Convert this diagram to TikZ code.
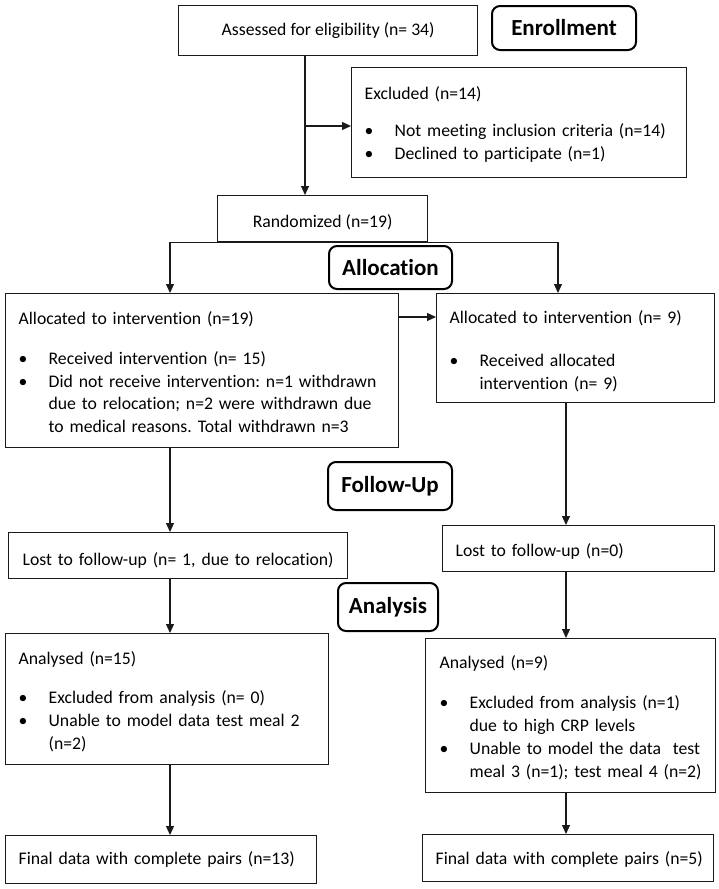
\documentclass[tikz,border=0pt]{standalone}
\usepackage{fontspec}
\setmainfont{Carlito}[Ligatures=NoCommon]
\usetikzlibrary{arrows.meta}
\frenchspacing

% bullet line with hanging text, lines split by \\
\newcommand{\bul}[1]{\par\noindent\makebox[30pt][l]{\textbullet}\begin{tabular}[t]{@{}l@{}}#1\end{tabular}}
\newcommand{\ttl}[2][17pt]{\mbox{#2}\par\vspace{#1}}

\begin{document}
\begin{tikzpicture}[x=1pt,y=-1pt]
    \definecolor{line-color}{HTML}{1a1a1a}
    \tikzstyle{every node}=[font=\fontsize{17.7}{22.7}\selectfont]
    \tikzstyle{plain} = [rectangle, draw=line-color, line width=1.3pt, anchor=north west, inner ysep=0pt, align=left]
    \tikzstyle{drop} = [execute at begin node={\rule{0pt}{#1}}]
    \tikzstyle{stage} = [rectangle, draw=black, line width=2pt, rounded corners=8pt, anchor=north west, inner sep=0pt, font=\fontsize{23}{28}\selectfont\bfseries]
    \tikzstyle{arrow} = [line width=1.2pt, draw=line-color, -{Triangle[length=9pt,width=8pt]}]
    \useasboundingbox (0,0) rectangle (719,889);

    % enrollment
    \node (assess) [plain, align=center, minimum width=299, minimum height=50] at (178,5) {Assessed for eligibility (n= 34)};
    \node (enroll) [stage, minimum width=144, minimum height=44] at (491,5) {Enrollment};
    \node (excl) [plain, drop=20pt, inner xsep=13, text width=309, minimum height=110] at (351,67) {\ttl[15pt]{Excluded (n=14)}\bul{Not meeting inclusion criteria (n=14)}\bul{Declined to participate (n=1)}};
    \node (rand) [plain, drop=20pt, align=center, minimum width=210, minimum height=46] at (217,195) {Randomized (n=19)};

    % allocation
    \node (alloc) [stage, minimum width=123, minimum height=43] at (328,245) {Allocation};
    \node (alloc1) [plain, drop=23pt, inner xsep=13, text width=367, minimum height=154] at (5,293) {\ttl{Allocated to intervention (n=19)}\bul{Received intervention (n= 15)}\bul{Did not receive intervention: n=1 withdrawn\\due to relocation; n=2 were withdrawn due\\to medical reasons. Total withdrawn n=3}};
    \node (alloc2) [plain, drop=23pt, inner xsep=13, text width=252, minimum height=109] at (436,293) {\ttl[21pt]{Allocated to intervention (n= 9)}\bul{Received allocated\\intervention (n= 9)}};

    % follow-up
    \node (follow) [stage, minimum width=124, minimum height=48] at (327,461) {Follow-Up};
    \node (lost1) [plain, drop=22pt, inner xsep=14, text width=311, minimum height=46] at (8,532) {\mbox{Lost to follow-up (n= 1, due to relocation)}};
    \node (lost2) [plain, drop=18pt, inner xsep=13, text width=246, minimum height=46] at (442,525) {\mbox{Lost to follow-up (n=0)}};

    % analysis
    \node (analysis) [stage, minimum width=100, minimum height=48] at (337,582) {Analysis};
    \node (anal1) [plain, drop=22pt, inner xsep=13, text width=297, minimum height=131] at (5,633) {\ttl{Analysed (n=15)}\bul{Excluded from analysis (n= 0)}\bul{Unable to model data test meal 2\\(n=2)}};
    \node (anal2) [plain, drop=22pt, inner xsep=14, text width=262, minimum height=154] at (425,638) {\ttl{Analysed (n=9)}\bul{Excluded from analysis (n=1)\\due to high CRP levels}\bul{Unable to model the data\ \ test\\meal 3 (n=1); test meal 4 (n=2)}};
    \node (final1) [plain, inner xsep=13, text width=285, minimum height=48] at (5,835) {\mbox{Final data with complete pairs (n=13)}};
    \node (final2) [plain, drop=16pt, inner xsep=13, text width=265, minimum height=47] at (422,834) {\mbox{Final data with complete pairs (n=5)}};

    % connectors
    \coordinate (split) at (305,126);
    \coordinate (lcol) at (170,0);
    \coordinate (rfork) at (558,0);
    \coordinate (rcol) at (566,0);
    \draw[arrow] (assess.south -| split) -- (rand.north -| split);
    \draw[arrow] (split) -- (excl.west |- split);
    \draw[arrow] (rand.south) -| (alloc1.north -| lcol);
    \draw[arrow] (rand.south) -| (alloc2.north -| rfork);
    \draw[arrow] (alloc1.east |- 0,317) -- (alloc2.west |- 0,317);
    \draw[arrow] (alloc1.south -| lcol) -- (lost1.north -| lcol);
    \draw[arrow] (alloc2.south -| rcol) -- (lost2.north -| rcol);
    \draw[arrow] (lost1.south -| lcol) -- (anal1.north -| lcol);
    \draw[arrow] (lost2.south -| rcol) -- (anal2.north -| rcol);
    \draw[arrow] (anal1.south -| lcol) -- (final1.north -| lcol);
    \draw[arrow] (anal2.south -| rcol) -- (final2.north -| rcol);
\end{tikzpicture}
\end{document}
